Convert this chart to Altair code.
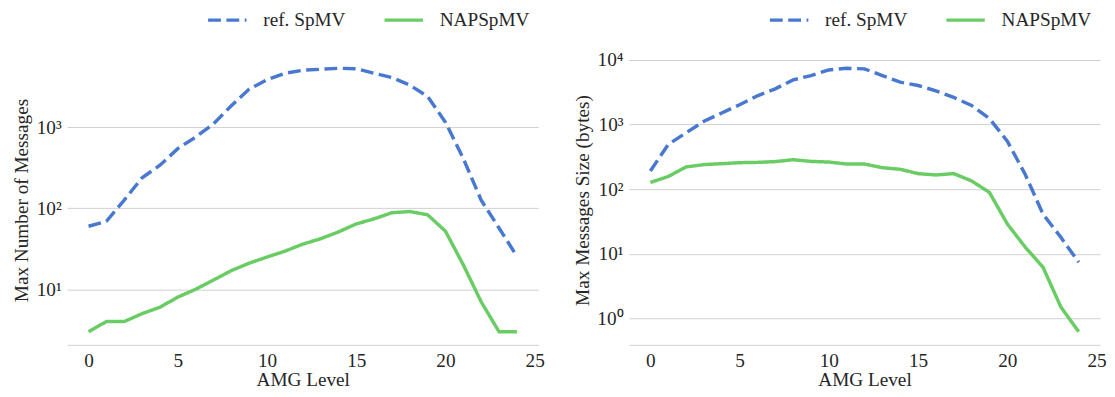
import altair as alt
import pandas as pd

levels = list(range(25))
series_names = ["ref. SpMV", "NAPSpMV"]

# Left panel: Max Number of Messages
msgs_ref = [60, 69, 126, 238, 339, 544, 755, 1100, 1840, 2950, 3840, 4630, 5040, 5180,
            5330, 5270, 4630, 4090, 3300, 2400, 1150, 410, 126, 57, 25.6]
msgs_nap = [3, 4, 4, 5, 6, 8, 10, 13, 17, 21, 25, 29.5, 36, 42, 51, 64, 74, 88, 91, 83,
            52, 20, 7, 3, 3]

# Right panel: Max Messages Size (bytes)
size_ref = [191, 492, 745, 1125, 1510, 2030, 2790, 3580, 4920, 5740, 7020, 7450, 7280,
            5740, 4530, 4030, 3330, 2630, 1980, 1240, 555, 170, 41, 18, 7.4]
size_nap = [127, 157, 221, 240, 248, 257, 260, 267, 286, 269, 263, 245, 245, 215, 203,
            174, 166, 174, 134, 89, 29, 12.7, 6.2, 1.5, 0.62]

FONT = "Liberation Serif"
FS = 19.5
TXT = "#262626"
GRID = "#d0d0d0"
BLUE = "#4878D0"
GREEN = "#6ACC64"


def long_df(ref, nap):
    rows = []
    for lv, v in zip(levels, ref):
        rows.append({"level": lv, "value": v, "series": series_names[0]})
    for lv, v in zip(levels, nap):
        rows.append({"level": lv, "value": v, "series": series_names[1]})
    return pd.DataFrame(rows)


sup_expr = ("datum.value == 1 ? '10\u2070' : datum.value == 10 ? '10\u00b9' : "
            "datum.value == 100 ? '10\u00b2' : datum.value == 1000 ? '10\u00b3' : "
            "datum.value == 10000 ? '10\u2074' : ''")

text_style = dict(labelFont=FONT, titleFont=FONT, labelFontSize=FS, titleFontSize=FS,
                  labelColor=TXT, titleColor=TXT, titleFontWeight="normal")


def panel(df, ytitle, ydomain, yticks):
    legend = alt.Legend(
        title=None, orient="none", legendX=141, legendY=-57, direction="horizontal",
        symbolType="stroke", symbolSize=1521, symbolStrokeWidth=3.5,
        labelFont=FONT, labelFontSize=FS, labelColor=TXT, labelOffset=15,
        columnPadding=32, padding=0, labelLimit=300,
    )
    return alt.Chart(df).mark_line(strokeWidth=3.5, clip=True).encode(
        x=alt.X("level:Q",
                scale=alt.Scale(domain=[-1.2, 25.2], nice=False, zero=False),
                axis=alt.Axis(values=[0, 5, 10, 15, 20, 25], title="AMG Level",
                              grid=False, ticks=False, domain=True,
                              domainColor=GRID, domainWidth=1, labelPadding=7,
                              titlePadding=1, labelFlush=False, **text_style)),
        y=alt.Y("value:Q",
                scale=alt.Scale(type="log", domain=ydomain, nice=False),
                axis=alt.Axis(values=yticks, labelExpr=sup_expr, title=ytitle,
                              grid=True, gridColor=GRID, gridWidth=1, domain=False,
                              ticks=False, labelPadding=6, titlePadding=5,
                              **text_style)),
        color=alt.Color("series:N",
                        scale=alt.Scale(domain=series_names, range=[BLUE, GREEN]),
                        legend=legend),
        strokeDash=alt.StrokeDash("series:N",
                                  scale=alt.Scale(domain=series_names,
                                                  range=[[13, 5.6], [1, 0]]),
                                  legend=legend),
    ).properties(width=478, height=294)


left = panel(long_df(msgs_ref, msgs_nap), "Max Number of Messages",
             [2.06, 7750], [10, 100, 1000])
right = panel(long_df(size_ref, size_nap), "Max Messages Size (bytes)",
              [0.388, 11900], [1, 10, 100, 1000, 10000])

chart = alt.hconcat(left, right, spacing=27).resolve_scale(
    y="independent"
).resolve_legend(color="independent", strokeDash="independent").properties(
    padding={"left": 3, "top": -12, "right": 0, "bottom": 0}, background="white"
).configure_view(stroke=None)

chart.save("out.html", embed_options={"renderer": "svg", "actions": False})
